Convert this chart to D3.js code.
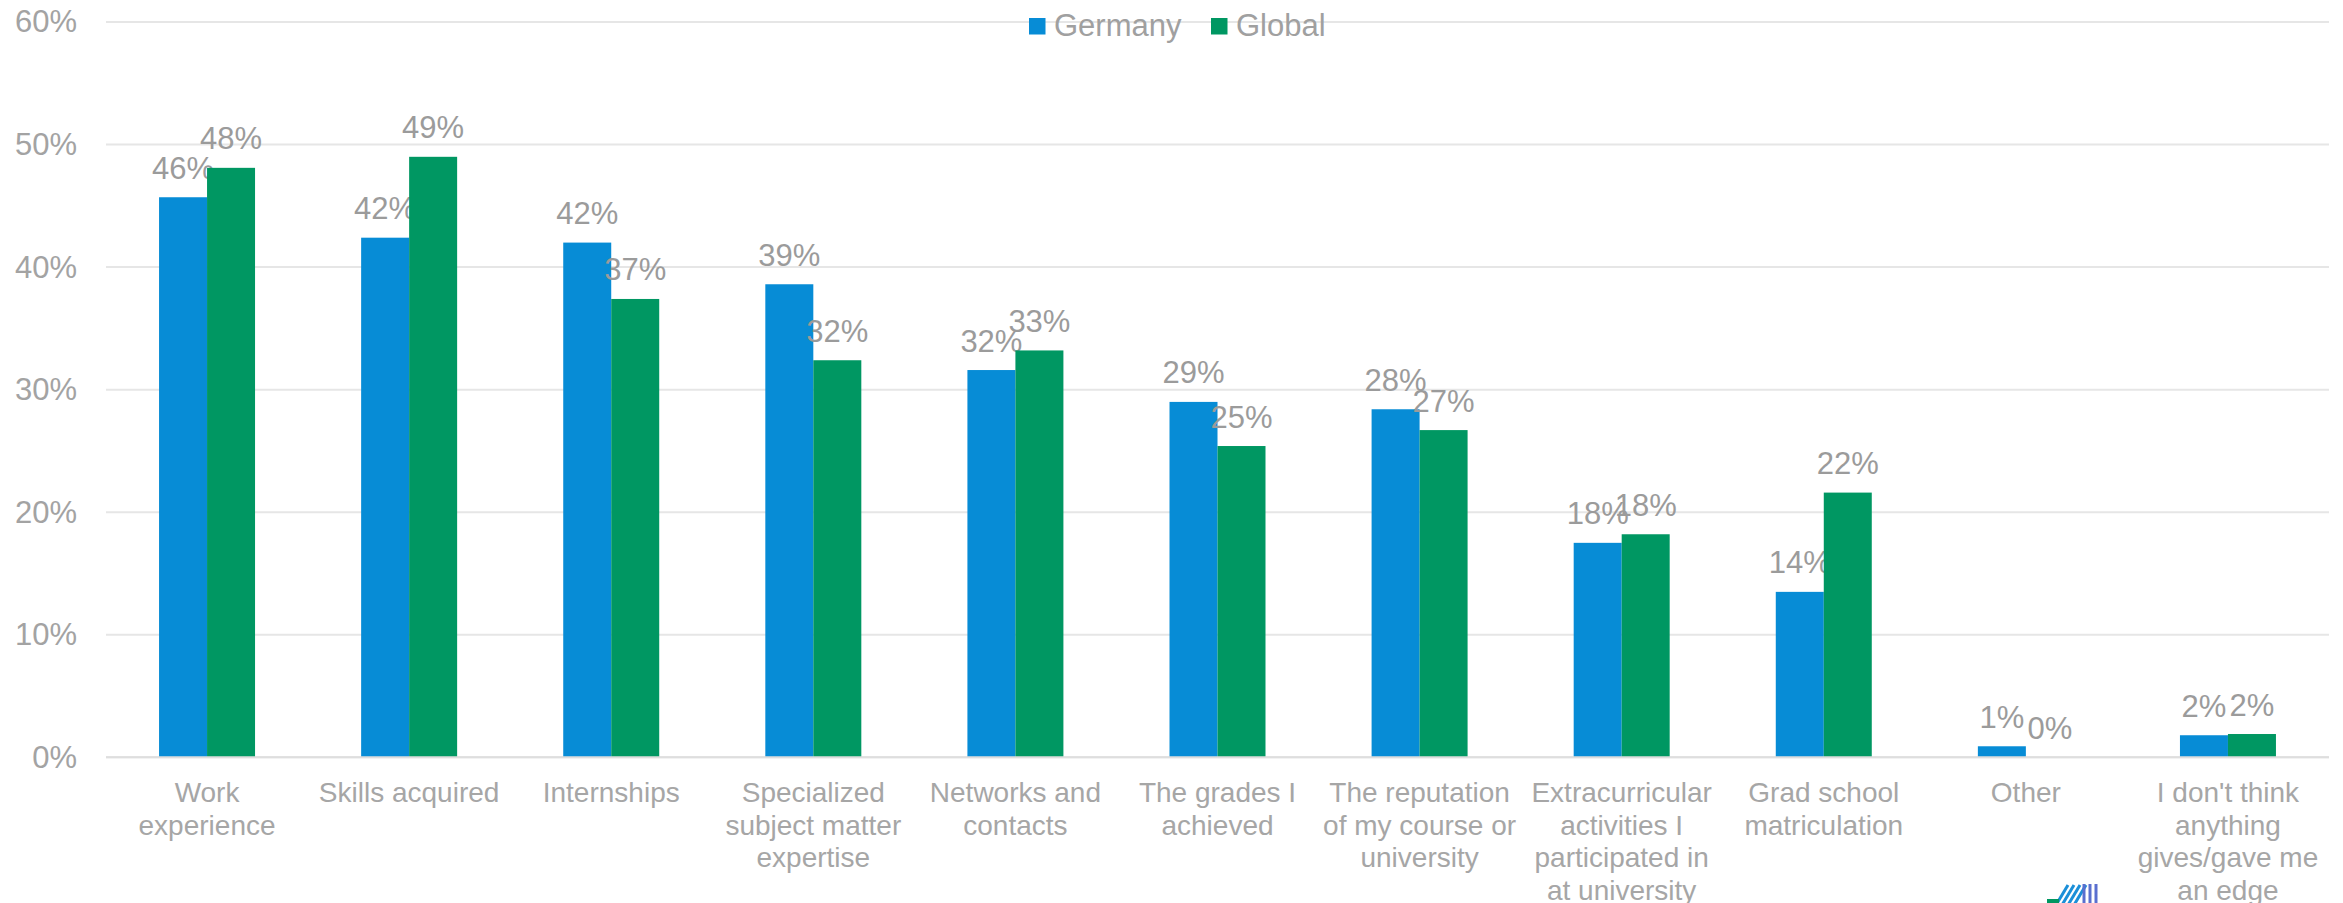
<!DOCTYPE html>
<html>
<head>
<meta charset="utf-8">
<script src="https://cdn.jsdelivr.net/npm/d3@7"></script>
<style>
	body { margin: 0; background: #fff; }
	text { font-family: "Liberation Sans", Arial, sans-serif; }
	.grid line { stroke: #e6e6e6; stroke-width: 2; }
	.yAxis text { fill: #a3a3a3; font-size: 31px; }
	.catLabel { fill: #a6a6a6; font-size: 28px; }
	.valLabel { fill: #9b9b9b; font-size: 31px; }
	.legend text { fill: #a0a0a0; font-size: 31px; }
</style>
</head>
<body>
<div class="container"></div>
<script>
var categories = [
	"Work\nexperience",
	"Skills acquired",
	"Internships",
	"Specialized\nsubject matter\nexpertise",
	"Networks and\ncontacts",
	"The grades I\nachieved",
	"The reputation\nof my course or\nuniversity",
	"Extracurricular\nactivities I\nparticipated in\nat university",
	"Grad school\nmatriculation",
	"Other",
	"I don't think\nanything\ngives/gave me\nan edge"
];
var seriesNames = ["Germany", "Global"];
var germany = [0.457, 0.424, 0.420, 0.386, 0.316, 0.290, 0.284, 0.175, 0.135, 0.009, 0.018];
var global = [0.481, 0.490, 0.374, 0.324, 0.332, 0.254, 0.267, 0.182, 0.216, 0.0, 0.019];
var yTicks = [0, 0.1, 0.2, 0.3, 0.4, 0.5, 0.6];
var colors = ["#078cd6", "#009762"];

const WIDTH = 2343;
const HEIGHT = 903;
const LEFT = 106;
const RIGHT = 2329;
const TOP = 22;
const BOTTOM = 757.3;

var svg, xScale, xInner, yScale;

var translate = function(x, y){
	return "translate(" + x + "," + y + ")";
};

var loadChart = function(){
	svg = d3.select('.container').append('svg')
		.attr('width', WIDTH)
		.attr('height', HEIGHT);

	xScale = d3.scaleBand()
		.domain(d3.range(categories.length))
		.range([LEFT, RIGHT])
		.paddingInner(0.525)
		.paddingOuter(0.2625);

	xInner = d3.scaleBand()
		.domain(seriesNames)
		.range([0, xScale.bandwidth()]);

	yScale = d3.scaleLinear()
		.domain([0, 0.6])
		.range([BOTTOM, TOP]);

	// gridlines
	svg.append('g')
		.classed('grid', true)
		.selectAll('line').data(yTicks)
		.enter().append('line')
		.attr('x1', LEFT)
		.attr('x2', RIGHT)
		.attr('y1', function(d){ return yScale(d); })
		.attr('y2', function(d){ return yScale(d); });

	var yAxis = d3.axisLeft(yScale)
		.tickValues(yTicks)
		.tickFormat(d3.format(".0%"))
		.tickSize(0)
		.tickPadding(29);

	svg.append('g')
		.attr('transform', translate(LEFT, 0))
		.classed('yAxis', true)
		.call(yAxis)
		.call(function(g){ g.select('.domain').remove(); });

	createBars();
	createCategoryLabels();
	createLegend();
	createLogo();
};

var createBars = function(){
	var data = [germany, global];

	var groups = svg.selectAll('g.series').data(data)
		.enter().append('g')
		.classed('series', true)
		.attr('fill', function(d, i){ return colors[i]; });

	groups.selectAll('rect').data(function(d, i){
			return d.map(function(v, c){ return {v: v, c: c, s: seriesNames[i]}; });
		})
		.enter().append('rect')
		.attr('x', function(d){ return xScale(d.c) + xInner(d.s); })
		.attr('width', xInner.bandwidth())
		.attr('y', function(d){ return yScale(d.v); })
		.attr('height', function(d){ return BOTTOM - yScale(d.v); });

	groups.selectAll('text').data(function(d, i){
			return d.map(function(v, c){ return {v: v, c: c, s: seriesNames[i]}; });
		})
		.enter().append('text')
		.classed('valLabel', true)
		.attr('text-anchor', 'middle')
		.attr('x', function(d){ return xScale(d.c) + xInner(d.s) + xInner.bandwidth() / 2; })
		.attr('y', function(d){ return yScale(d.v) - 18.5; })
		.text(function(d){ return d3.format(".0%")(d.v); });

	// axis baseline
	svg.append('line')
		.attr('x1', LEFT).attr('x2', RIGHT)
		.attr('y1', BOTTOM).attr('y2', BOTTOM)
		.attr('stroke', '#dedede')
		.attr('stroke-width', 2);
};

var createCategoryLabels = function(){
	var labels = svg.append('g').selectAll('text').data(categories)
		.enter().append('text')
		.classed('catLabel', true)
		.attr('text-anchor', 'middle')
		.attr('x', function(d, i){ return xScale(i) + xScale.bandwidth() / 2; })
		.attr('y', 801.7);

	labels.selectAll('tspan').data(function(d){ return d.split("\n"); })
		.enter().append('tspan')
		.attr('x', function(){ return this.parentNode.getAttribute('x'); })
		.attr('dy', function(d, i){ return i === 0 ? 0 : 32.8; })
		.text(function(d){ return d; });
};

var createLegend = function(){
	var legend = svg.append('g').classed('legend', true);
	var starts = [1029, 1211];

	var items = legend.selectAll('g').data(seriesNames)
		.enter().append('g')
		.attr('transform', function(d, i){ return translate(starts[i], 0); });

	items.append('rect')
		.attr('y', 18)
		.attr('width', 16.5)
		.attr('height', 16.5)
		.attr('fill', function(d, i){ return colors[i]; });

	items.append('text')
		.attr('x', 25)
		.attr('y', 36)
		.text(function(d){ return d; });
};

// partly cut off logo in the lower right corner
var createLogo = function(){
	var logo = svg.append('g').attr('transform', translate(2080, 915));
	var stripes = [-24, -18, -12, -6];
	logo.selectAll('line.b').data(stripes)
		.enter().append('line')
		.attr('x1', function(d){ return d; })
		.attr('y1', -10)
		.attr('x2', function(d){ return d + 12; })
		.attr('y2', -30)
		.attr('stroke', '#1b8fd8')
		.attr('stroke-width', 3);
	logo.selectAll('line.p').data([4, 10, 16])
		.enter().append('line')
		.attr('x1', function(d){ return d; })
		.attr('y1', -8)
		.attr('x2', function(d){ return d; })
		.attr('y2', -31)
		.attr('stroke', '#5a6fcf')
		.attr('stroke-width', 3);
	logo.append('rect')
		.attr('x', -33).attr('y', -16)
		.attr('width', 12).attr('height', 4)
		.attr('fill', '#009762');
};

window.onload = loadChart;
</script>
</body>
</html>
